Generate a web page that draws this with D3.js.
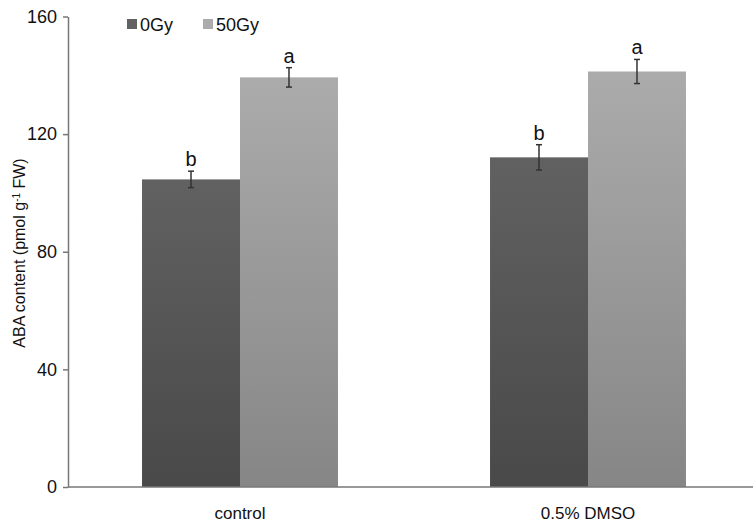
<!DOCTYPE html>
<html>
<head>
<meta charset="utf-8">
<script src="https://cdn.jsdelivr.net/npm/d3@7"></script>
<style>
  body { margin: 0; background: #fff; }
  text { font-family: "Liberation Sans", Arial, sans-serif; }
</style>
</head>
<body>
<script>
const categories = ["control", "0.5% DMSO"];
const seriesNames = ["0Gy", "50Gy"];
const values0Gy = [104.6, 112.1];
const values50Gy = [139.3, 141.3];
const err0Gy = [2.8, 4.3];
const err50Gy = [3.3, 4.1];
const letters0Gy = ["b", "b"];
const letters50Gy = ["a", "a"];
const yTicks = [0, 40, 80, 120, 160];

const width = 753, height = 523;
const colors = {
  "0Gy": ["#616161", "#494949"],
  "50Gy": ["#ababab", "#868686"]
};

let svg = d3.select("body").append("svg")
  .attr("width", width)
  .attr("height", height);

let defs = svg.append("defs");
seriesNames.forEach((s, i) => {
  let g = defs.append("linearGradient")
    .attr("id", "grad" + i)
    .attr("x1", 0).attr("y1", 0).attr("x2", 0).attr("y2", 1);
  g.append("stop").attr("offset", "0%").attr("stop-color", colors[s][0]);
  g.append("stop").attr("offset", "100%").attr("stop-color", colors[s][1]);
});

const y = d3.scaleLinear().domain([0, 160]).range([487, 16.5]);
const x0 = d3.scaleBand().domain(categories).range([66, 762]).padding(0);
const x1 = d3.scaleBand().domain(seriesNames).range([0, x0.bandwidth()]).paddingInner(0).paddingOuter(0.776);

let rows = categories.map((c, i) => ({
  cat: c,
  bars: [
    { s: "0Gy", v: values0Gy[i], e: err0Gy[i], l: letters0Gy[i], k: 0 },
    { s: "50Gy", v: values50Gy[i], e: err50Gy[i], l: letters50Gy[i], k: 1 }
  ]
}));

let groups = svg.selectAll("g.grp")
  .data(rows)
  .enter()
  .append("g")
    .attr("class", "grp")
    .attr("transform", d => `translate(${x0(d.cat)},0)`);

groups.selectAll("rect")
  .data(d => d.bars)
  .enter()
  .append("rect")
    .attr("x", d => x1(d.s))
    .attr("width", x1.bandwidth())
    .attr("y", d => y(d.v))
    .attr("height", d => y(0) - y(d.v))
    .attr("fill", d => `url(#grad${d.k})`);

// error bars
let eb = groups.selectAll("g.err")
  .data(d => d.bars)
  .enter()
  .append("g")
    .attr("class", "err")
    .attr("stroke", "#333")
    .attr("stroke-width", 1.5);

eb.append("line")
  .attr("x1", d => x1(d.s) + x1.bandwidth() / 2)
  .attr("x2", d => x1(d.s) + x1.bandwidth() / 2)
  .attr("y1", d => y(d.v + d.e))
  .attr("y2", d => y(d.v - d.e));
eb.append("line")
  .attr("x1", d => x1(d.s) + x1.bandwidth() / 2 - 3)
  .attr("x2", d => x1(d.s) + x1.bandwidth() / 2 + 3)
  .attr("y1", d => y(d.v + d.e))
  .attr("y2", d => y(d.v + d.e));
eb.append("line")
  .attr("x1", d => x1(d.s) + x1.bandwidth() / 2 - 3)
  .attr("x2", d => x1(d.s) + x1.bandwidth() / 2 + 3)
  .attr("y1", d => y(d.v - d.e))
  .attr("y2", d => y(d.v - d.e));

// significance letters
groups.selectAll("text.letter")
  .data(d => d.bars)
  .enter()
  .append("text")
    .attr("class", "letter")
    .attr("x", d => x1(d.s) + x1.bandwidth() / 2)
    .attr("y", d => y(d.v + d.e) - 5)
    .attr("text-anchor", "middle")
    .attr("font-size", 20)
    .attr("fill", "#111")
    .text(d => d.l);

// axes
let yAxis = d3.axisLeft(y).tickValues(yTicks).tickSize(5).tickSizeOuter(0).tickPadding(6);
let gy = svg.append("g")
  .attr("transform", "translate(68,0)")
  .call(yAxis);
gy.select(".domain").attr("stroke", "#777").attr("stroke-width", 1.5);
gy.selectAll(".tick line").attr("stroke", "#777").attr("stroke-width", 1.5);
gy.selectAll(".tick text")
  .attr("font-size", 18)
  .attr("fill", "#111")
  .attr("font-family", "Liberation Sans, Arial, sans-serif");

let xAxis = d3.axisBottom(x0).tickSize(0).tickPadding(20);
let gx = svg.append("g")
  .attr("transform", `translate(0,${y(0)})`)
  .call(xAxis);
gx.select(".domain").attr("d", "M68,0H753").attr("stroke", "#777").attr("stroke-width", 1.5);
gx.selectAll(".tick text")
  .attr("font-size", 17)
  .attr("fill", "#111")
  .attr("font-family", "Liberation Sans, Arial, sans-serif");

// y title
let title = svg.append("text")
  .attr("transform", "translate(25,253) rotate(-90)")
  .attr("text-anchor", "middle")
  .attr("font-size", 16)
  .attr("fill", "#111");
title.append("tspan").text("ABA content (pmol g");
title.append("tspan").attr("baseline-shift", "super").attr("font-size", 10).text("-1");
title.append("tspan").text(" FW)");

// legend
let legend = svg.append("g").attr("id", "legend");
let legendX = [127, 203];
seriesNames.forEach((s, i) => {
  legend.append("rect")
    .attr("x", legendX[i]).attr("y", 19)
    .attr("width", 10).attr("height", 10)
    .attr("fill", colors[s][0]);
  legend.append("text")
    .attr("x", legendX[i] + 13).attr("y", 31)
    .attr("font-size", 18)
    .attr("fill", "#111")
    .text(s);
});
</script>
</body>
</html>
